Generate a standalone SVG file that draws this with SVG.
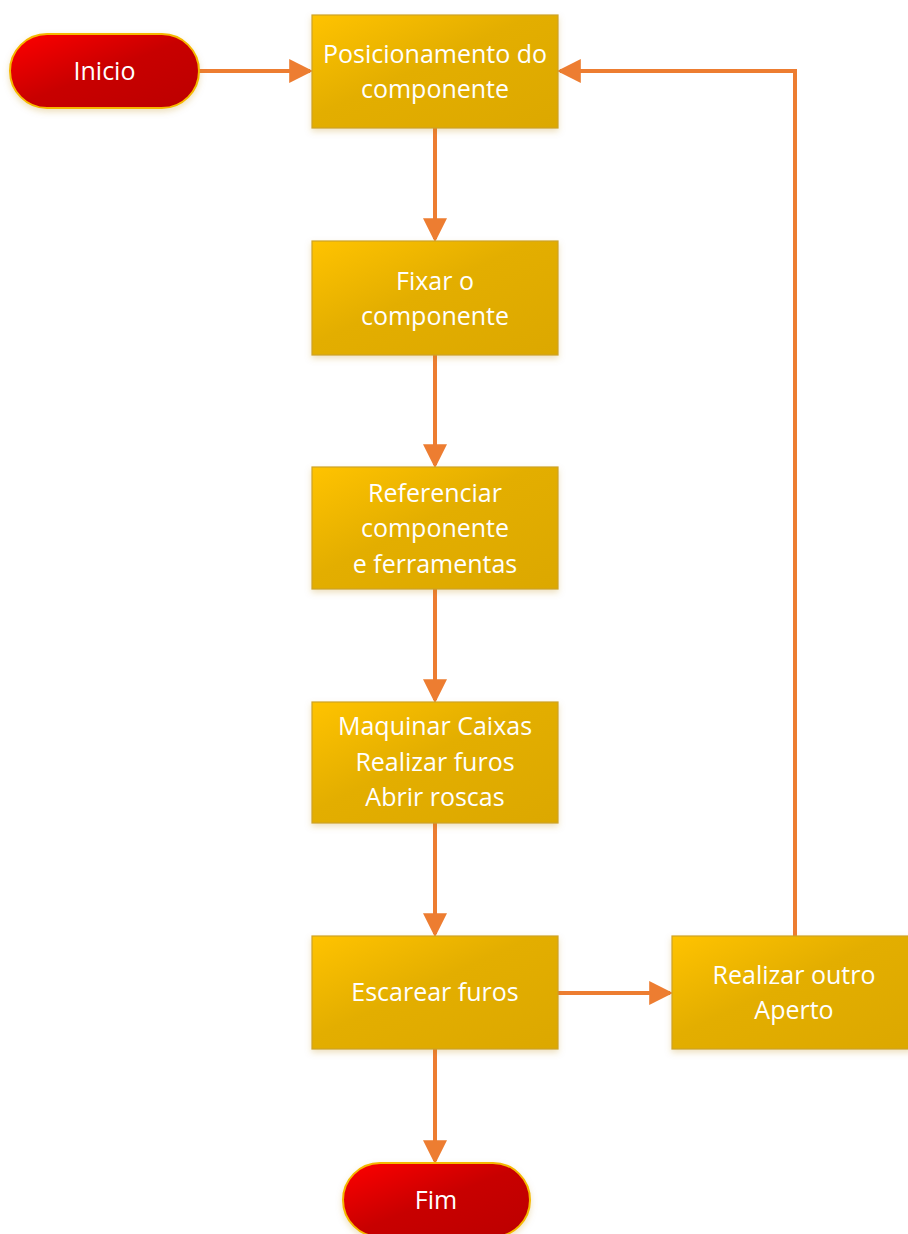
<svg xmlns="http://www.w3.org/2000/svg" width="908" height="1234" viewBox="0 0 908 1234">
<defs>
<linearGradient id="gold" x1="0" y1="0" x2="1" y2="1">
<stop offset="0" stop-color="#FFC300"/>
<stop offset="0.45" stop-color="#E3AE00"/>
<stop offset="1" stop-color="#DCA800"/>
</linearGradient>
<linearGradient id="red" x1="0" y1="0" x2="1" y2="1">
<stop offset="0" stop-color="#FF0000"/>
<stop offset="0.5" stop-color="#C80000"/>
<stop offset="1" stop-color="#BC0000"/>
</linearGradient>
<filter id="sh" x="-10%" y="-10%" width="130%" height="130%">
<feDropShadow dx="0" dy="3" stdDeviation="3" flood-color="#B8860B" flood-opacity="0.25"/>
</filter>
<marker id="ah" markerWidth="6" markerHeight="6" refX="5.2" refY="3" orient="auto" markerUnits="strokeWidth">
<path d="M0,0 L6,3 L0,6 z" fill="#ED7D31"/>
</marker>
<style>
.box{fill:url(#gold);stroke:#CDA22A;stroke-width:1.2;filter:url(#sh)}
.term{fill:url(#red);stroke:#F5B800;stroke-width:2;filter:url(#sh)}
.t{font-family:"Open Sans","Liberation Sans",sans-serif;font-size:25px;fill:#FFFFFF;text-anchor:middle}
.c{fill:none;stroke:#ED7D31;stroke-width:4;marker-end:url(#ah)}
</style>
</defs>
<g id="connectors">
<path class="c" d="M199,71 L310,71"/>
<path class="c" d="M435,128 L435,239"/>
<path class="c" d="M435,355 L435,465"/>
<path class="c" d="M435,589 L435,700"/>
<path class="c" d="M435,823 L435,934"/>
<path class="c" d="M435,1049 L435,1161"/>
<path class="c" d="M558,993 L670,993"/>
<path class="c" d="M795,936 L795,71 L560,71"/>
</g>
<g id="inicio">
<rect class="term" x="10" y="34" width="189" height="74" rx="37"/>
<text class="t" x="104.5" y="80">Inicio</text>
</g>
<g id="posicionamento">
<rect class="box" x="312" y="15" width="246" height="113"/>
<text class="t" x="435" y="63">Posicionamento do</text>
<text class="t" x="435" y="98">componente</text>
</g>
<g id="fixar">
<rect class="box" x="312" y="241" width="246" height="114"/>
<text class="t" x="435" y="290">Fixar o</text>
<text class="t" x="435" y="325">componente</text>
</g>
<g id="referenciar">
<rect class="box" x="312" y="467" width="246" height="122"/>
<text class="t" x="435" y="502">Referenciar</text>
<text class="t" x="435" y="537">componente</text>
<text class="t" x="435" y="573">e ferramentas</text>
</g>
<g id="maquinar">
<rect class="box" x="312" y="702" width="246" height="121"/>
<text class="t" x="435" y="735">Maquinar Caixas</text>
<text class="t" x="435" y="771">Realizar furos</text>
<text class="t" x="435" y="806">Abrir roscas</text>
</g>
<g id="escarear">
<rect class="box" x="312" y="936" width="246" height="113"/>
<text class="t" x="435" y="1001">Escarear furos</text>
</g>
<g id="realizar">
<rect class="box" x="672" y="936" width="240" height="113"/>
<text class="t" x="794" y="984">Realizar outro</text>
<text class="t" x="794" y="1019">Aperto</text>
</g>
<g id="fim">
<rect class="term" x="343" y="1163" width="187" height="74" rx="37"/>
<text class="t" x="436" y="1209">Fim</text>
</g>
</svg>
